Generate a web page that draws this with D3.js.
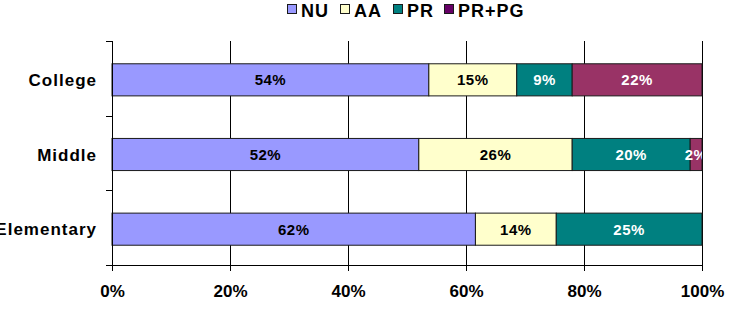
<!DOCTYPE html>
<html>
<head>
<meta charset="utf-8">
<script src="https://cdn.jsdelivr.net/npm/d3@7"></script>
<style>
  body { margin: 0; background: #fff; }
  text { font-family: "Liberation Sans", Arial, sans-serif; font-weight: bold; }
</style>
</head>
<body>
<svg id="chart" width="730" height="312"></svg>
<script>
// chart data
const categories = ["College", "Middle", "Elementary"];
const seriesNames = ["NU", "AA", "PR", "PR+PG"];
const nuValues = [53.7, 52.0, 61.6];
const aaValues = [14.9, 26.0, 13.7];
const prValues = [9.4, 20.0, 24.7];
const pgValues = [22.0, 2.0, 0];
const xTicks = [0, 20, 40, 60, 80, 100];

const colors = ["#9999ff", "#ffffcc", "#008080", "#993366"];
const legendColors = ["#9999ff", "#ffffcc", "#008080", "#660066"];
const labelColors = ["#000", "#000", "#fff", "#fff"];

let svg = d3.select("#chart");

let margin = { left: 112, right: 28, top: 41, bottom: 47 };
let plotW = 730 - margin.left - margin.right;
let plotH = 312 - margin.top - margin.bottom;

let xScale = d3.scaleLinear().domain([0, 100]).range([0, plotW]);
let yScale = d3.scaleBand().domain(categories).range([1.5, plotH + 1.5]).paddingInner(0.57).paddingOuter(0.285);

let g = svg.append("g").attr("transform", `translate(${margin.left},${margin.top})`);

// vertical gridlines
g.append("g")
  .selectAll("line")
  .data(xTicks.slice(1))
  .join("line")
  .attr("x1", d => Math.round(xScale(d)) + 0.5)
  .attr("x2", d => Math.round(xScale(d)) + 0.5)
  .attr("y1", 0)
  .attr("y2", plotH)
  .attr("stroke", "#000")
  .attr("stroke-width", 1);

// stacked data
let rows = categories.map((c, i) => ({
  cat: c, NU: nuValues[i], AA: aaValues[i], PR: prValues[i], "PR+PG": pgValues[i]
}));
let stacked = d3.stack().keys(seriesNames)(rows);

svg.append("defs").append("clipPath").attr("id", "plotClip")
  .append("rect").attr("x", 0).attr("y", -2).attr("width", plotW).attr("height", plotH + 4);

let barsG = g.append("g");
let labelsG = g.append("g").attr("clip-path", "url(#plotClip)");

stacked.forEach((layer, si) => {
  barsG.selectAll(null)
    .data(layer.filter(d => d[1] - d[0] > 0))
    .join("rect")
    .attr("x", d => xScale(d[0]))
    .attr("y", d => yScale(d.data.cat))
    .attr("width", d => xScale(d[1]) - xScale(d[0]))
    .attr("height", yScale.bandwidth())
    .attr("fill", colors[si])
    .attr("stroke", "#1a1a1a")
    .attr("stroke-width", 1);

  labelsG.selectAll(null)
    .data(layer.filter(d => d[1] - d[0] > 0))
    .join("text")
    .attr("x", d => (xScale(d[0]) + xScale(d[1])) / 2)
    .attr("y", d => yScale(d.data.cat) + yScale.bandwidth() / 2)
    .attr("dy", "0.36em")
    .attr("text-anchor", "middle")
    .attr("font-size", 15)
    .attr("letter-spacing", 0.5)
    .attr("fill", labelColors[si])
    .text(d => Math.round(d[1] - d[0]) + "%");
});

// x axis
let xAxis = d3.axisBottom(xScale).tickValues(xTicks).tickSize(6).tickPadding(14)
  .tickFormat(d => d + "%");
let xAxisG = g.append("g").attr("transform", `translate(0,${plotH})`).call(xAxis);
xAxisG.select(".domain").attr("stroke", "#000").attr("d", `M0.5,0.5H${plotW + 0.5}`);
xAxisG.selectAll(".tick line").attr("stroke", "#000");
xAxisG.selectAll("text").attr("font-size", 17).attr("fill", "#000")
  .style("font-family", "'Liberation Sans', Arial, sans-serif").style("font-weight", "bold");

// y axis with ticks between categories
let yAxisG = g.append("g");
yAxisG.append("line")
  .attr("x1", 0.5).attr("x2", 0.5).attr("y1", 0).attr("y2", plotH)
  .attr("stroke", "#000");
let step = plotH / categories.length;
yAxisG.selectAll(".ytick")
  .data(d3.range(categories.length + 1))
  .join("line")
  .attr("class", "ytick")
  .attr("x1", -6).attr("x2", 0.5)
  .attr("y1", d => Math.round(d * step) + 0.5)
  .attr("y2", d => Math.round(d * step) + 0.5)
  .attr("stroke", "#000");
yAxisG.selectAll(".ylabel")
  .data(categories)
  .join("text")
  .attr("class", "ylabel")
  .attr("x", -15)
  .attr("y", d => yScale(d) + yScale.bandwidth() / 2)
  .attr("dy", "0.36em")
  .attr("text-anchor", "end")
  .attr("font-size", 17)
  .attr("letter-spacing", 1)
  .attr("fill", "#000")
  .text(d => d);

// legend
let legendX = [287, 340, 393, 444];
let legend = svg.append("g");
seriesNames.forEach((s, i) => {
  legend.append("rect")
    .attr("x", legendX[i] + 0.5).attr("y", 4.5)
    .attr("width", 9).attr("height", 9)
    .attr("fill", legendColors[i])
    .attr("stroke", "#1a1a1a");
  legend.append("text")
    .attr("x", legendX[i] + 14)
    .attr("y", 17)
    .attr("font-size", 18)
    .attr("letter-spacing", 1)
    .attr("fill", "#000")
    .text(s);
});
</script>
</body>
</html>
